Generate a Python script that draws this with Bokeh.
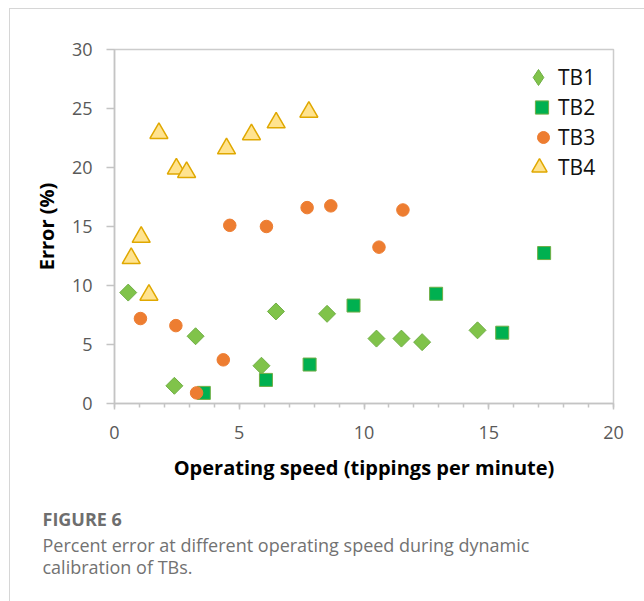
import math
from bokeh.plotting import figure
from bokeh.models import (Range1d, SingleIntervalTicker, Legend, LegendItem, Title)
from bokeh.embed import file_html
from bokeh.resources import INLINE

# ---- data ----
series_names = ["TB1", "TB2", "TB3", "TB4"]

tb1_x = [0.55, 2.40, 3.25, 5.89, 6.47, 8.52, 10.50, 11.50, 12.33, 14.55]
tb1_y = [9.4, 1.5, 5.7, 3.2, 7.8, 7.6, 5.5, 5.5, 5.2, 6.2]

tb2_x = [3.58, 6.07, 7.82, 9.58, 12.89, 15.54, 17.22]
tb2_y = [0.9, 2.0, 3.3, 8.3, 9.3, 6.0, 12.75]

tb3_x = [1.04, 2.46, 3.29, 4.36, 4.62, 6.09, 7.72, 8.67, 10.60, 11.56]
tb3_y = [7.2, 6.6, 0.9, 3.7, 15.1, 15.0, 16.6, 16.75, 13.25, 16.4]

tb4_x = [0.67, 1.07, 1.38, 1.78, 2.48, 2.89, 4.49, 5.49, 6.48, 7.79]
tb4_y = [12.3, 14.1, 9.2, 22.9, 19.9, 19.6, 21.6, 22.8, 23.8, 24.7]

x_title = "Operating speed (tippings per minute)"
y_title = "Error (%)"
caption_head = "FIGURE 6"
caption_lines = ["Percent error at different operating speed during dynamic",
                 "calibration of TBs."]

# ---- layout (pixels) ----
W, H = 644, 601
FL, FR, FT, FB = 114, 613, 49, 403
CAP_X = 42

p = figure(width=W, height=H, x_range=Range1d(0, 20), y_range=Range1d(0, 30),
           output_backend="svg", toolbar_location=None, title=None,
           min_border_left=FL, min_border_right=W - FR,
           min_border_top=FT, min_border_bottom=H - FB)
p.background_fill_color = "white"
p.border_fill_color = None
# outer card edges (top + left) drawn behind the transparent canvas border
p.styles = {
    "background-color": "white",
    "background-image": "linear-gradient(#d6d6d6, #d6d6d6), linear-gradient(#d6d6d6, #d6d6d6)",
    "background-size": "100% 1px, 1px 100%",
    "background-position": "9px 8px, 9px 8px",
    "background-repeat": "no-repeat",
}
p.outline_line_color = "#cccccc"
p.outline_line_width = 1.5
p.xgrid.visible = False
p.ygrid.visible = False

axis_gray = "#c4c4c4"
p.xaxis.ticker = SingleIntervalTicker(interval=5, num_minor_ticks=5)
p.yaxis.ticker = SingleIntervalTicker(interval=5, num_minor_ticks=0)
for ax in (p.xaxis[0], p.yaxis[0]):
    ax.axis_line_color = axis_gray
    ax.axis_line_width = 1.5
    ax.major_tick_line_color = axis_gray
    ax.major_tick_line_width = 1.5
    ax.minor_tick_line_color = axis_gray
    ax.minor_tick_line_width = 1.5
    ax.major_tick_in = 0
    ax.minor_tick_in = 0
    ax.major_label_text_font = "Open Sans"
    ax.major_label_text_font_size = "18px"
    ax.major_label_text_color = "#595959"
    ax.axis_label_text_font = "Open Sans"
    ax.axis_label_text_font_size = "20px"
    ax.axis_label_text_font_style = "bold"
    ax.axis_label_text_color = "#000000"

p.xaxis.major_tick_out = 6
p.xaxis.minor_tick_out = 4
p.xaxis.major_label_standoff = 16
p.xaxis.axis_label = x_title
p.xaxis.axis_label_standoff = 12

p.yaxis.major_tick_out = 8
p.yaxis.minor_tick_out = 0
p.yaxis.major_label_standoff = 14
p.yaxis.axis_label = y_title
p.yaxis.axis_label_standoff = 9

# ---- series ----
tb1_style = dict(fill_color="#80C34A", line_color="#6FAE45", line_width=1)
# legend key for TB1 (a diamond; the legend ignores marker angle). It sits
# underneath the rotated squares of the same data so only the legend shows it.
r1_key = p.scatter(tb1_x, tb1_y, marker="diamond", size=7, **tb1_style)
r1 = p.scatter(tb1_x, tb1_y, marker="square", angle=math.pi / 4, size=12, **tb1_style)
r2 = p.scatter(tb2_x, tb2_y, marker="square", size=13,
               fill_color="#00B050", line_color="#6FAE45", line_width=1)
r3 = p.scatter(tb3_x, tb3_y, marker="circle", size=12.5,
               fill_color="#ED7D31", line_color="#ED7D31", line_width=1)
r4 = p.scatter(tb4_x, tb4_y, marker="triangle", size=18,
               fill_color="#FFE38F", line_color="#E0A800", line_width=1.5)

# ---- legend: one row per legend so each swatch gets its own size ----
GH = 40
legend_rows = [(series_names[0], r1_key, 40, 77),
               (series_names[1], r2, 33, 107),
               (series_names[2], r3, 30, 137),
               (series_names[3], r4, 38, 167)]
text_x = 558
for name, rend, gw, rc in legend_rows:
    lg = Legend(items=[LegendItem(label=name, renderers=[rend])],
                location=(text_x - gw - FL, FB - (rc + GH / 2)),
                glyph_width=gw, glyph_height=GH, label_standoff=0,
                padding=0, margin=0, spacing=0,
                border_line_color=None, background_fill_alpha=0,
                label_text_font="Open Sans", label_text_font_size="21px",
                label_text_color="#111111")
    p.add_layout(lg)

# ---- caption (titles stacked below the x axis) ----
# blank spacer between the axis title and the caption block
p.add_layout(Title(text=" ", align="left", offset=CAP_X - FL, standoff=-5,
                   text_font="Open Sans", text_font_size="18px"), "below")
p.add_layout(Title(text=caption_head, align="left", offset=CAP_X - FL, standoff=0,
                   text_font="Open Sans", text_font_size="18px",
                   text_font_style="bold", text_color="#6e6e6e"), "below")
for line, gap in zip(caption_lines, [1, -10]):
    p.add_layout(Title(text=line, align="left", offset=CAP_X - FL, standoff=gap,
                       text_font="Open Sans", text_font_size="18px",
                       text_font_style="normal", text_color="#727272"), "below")

open("out.html", "w").write(file_html(p, INLINE))
